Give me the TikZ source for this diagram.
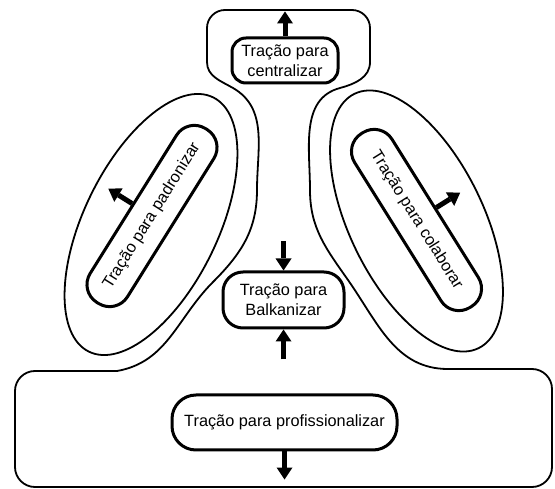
\documentclass[tikz,border=0pt]{standalone}
\usepackage{fontspec}
\setmainfont{Liberation Sans}
\usetikzlibrary{arrows.meta,calc}

\begin{document}
\begin{tikzpicture}[x=1pt,y=1pt,
  outline/.style={line width=1.8pt, line join=round},
  pull/.style={draw, line width=3pt, align=center, inner sep=0pt,
    font=\fontsize{16.3}{20}\selectfont},
  push/.style={line width=5pt,
    -{Triangle[width=16pt,length=12pt,line width=0pt]}},
]
\useasboundingbox (0,0) rectangle (555,-489);

% shared contour: top box, two necks and the wide base
\draw[outline]
  (117,-371) -- (35,-371) arc[start angle=90,end angle=180,radius=20]
  -- (15,-467) arc[start angle=180,end angle=270,radius=20]
  -- (532,-487) arc[start angle=270,end angle=360,radius=20]
  -- (552,-389) arc[start angle=0,end angle=90,radius=20]
  -- (448,-369)
  to[out=180,in=-55] (348,-280)
  to[out=125,in=-90] (310,-190)
  to[out=90,in=195] (340,-88)
  to[out=15,in=-90] (370,-62)
  -- (370,-28) arc[start angle=0,end angle=90,radius=18]
  -- (225,-10) arc[start angle=90,end angle=180,radius=18]
  -- (207,-62)
  to[out=-90,in=150] (233,-88)
  to[out=-30,in=90] (257,-190)
  to[out=-90,in=45] (213,-282)
  to[out=225,in=10] (117,-371) -- cycle;

% side envelopes
\draw[outline, rotate around={64:(151,-224.5)}]
  (151,-224.5) ellipse[x radius=141.5, y radius=67];
\draw[outline, rotate around={-64:(416.5,-221)}]
  (416.5,-221) ellipse[x radius=141.5, y radius=67];

% the five pulls
\node[pull, minimum width=106pt, minimum height=45pt, rounded corners=14pt]
  (cen) at (285,-60.5) {Tração para\\centralizar};
\node[pull, minimum width=121pt, minimum height=56pt, rounded corners=20pt]
  (bal) at (283.5,-300) {Tração para\\Balkanizar};
\node[pull, minimum width=225pt, minimum height=55pt, rounded corners=24pt]
  (pro) at (284.5,-422.5) {Tração para profissionalizar};
\node[pull, rotate=58, minimum width=205pt, minimum height=44pt, rounded corners=21pt]
  (pad) at (152,-216) {Tração para padronizar};
\node[pull, rotate=-58, minimum width=205pt, minimum height=44pt, rounded corners=21pt]
  (col) at (416.5,-220) {Tração para colaborar};

% arrow ends
\coordinate (cenT) at ($(cen.north)+(0,25)$);
\coordinate (balT) at ($(bal.north)+(0,29)$);
\coordinate (balB) at ($(bal.south)+(0,-30)$);
\coordinate (proB) at ($(pro.south)+(0,-28)$);
\coordinate (padT) at ($(pad.north)+(148:28)$);
\coordinate (colT) at ($(col.north)+(32:28)$);

\draw[push] (cen.north) -- (cenT);
\draw[push] (balT) -- (bal.north);
\draw[push] (balB) -- (bal.south);
\draw[push] (pro.south) -- (proB);
\draw[push] (pad.north) -- (padT);
\draw[push] (col.north) -- (colT);
\end{tikzpicture}
\end{document}
